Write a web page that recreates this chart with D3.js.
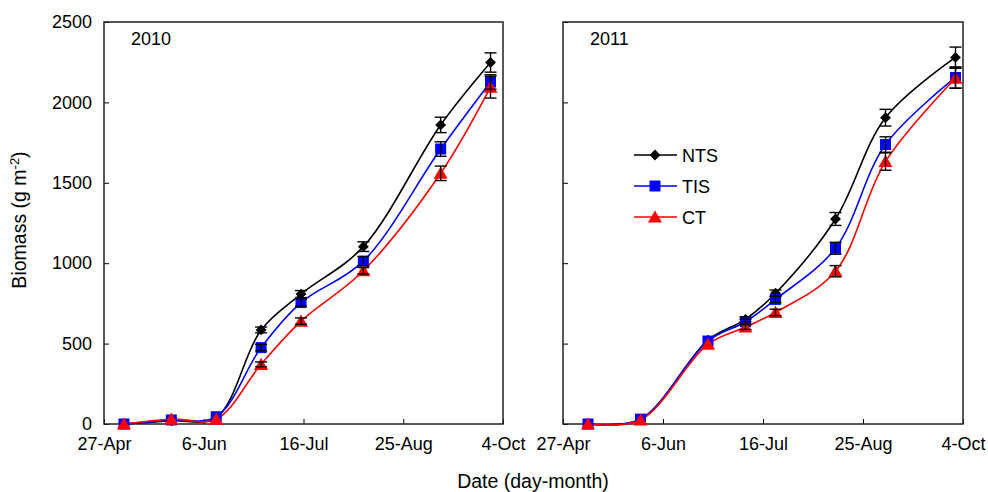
<!DOCTYPE html>
<html>
<head>
<meta charset="utf-8">
<script src="https://cdn.jsdelivr.net/npm/d3@7"></script>
<style>
  html, body { margin: 0; padding: 0; background: #fff; }
  svg { display: block; font-family: "Liberation Sans", Arial, sans-serif; }
</style>
</head>
<body>
<svg id="chart" width="988" height="492"></svg>
<script>
// Sampling dates and mean above-ground biomass (g m-2) for each tillage system
const dates2010 = ["2010-05-05", "2010-05-24", "2010-06-11", "2010-06-29", "2010-07-15", "2010-08-09", "2010-09-09", "2010-09-29"];
const nts2010 = [0, 20, 40, 585, 808, 1103, 1860, 2248];
const tis2010 = [0, 25, 45, 475, 755, 1013, 1710, 2127];
const ct2010  = [0, 30, 30, 371, 640, 953, 1559, 2095];
const ntsErr2010 = [5, 8, 10, 18, 22, 30, 48, 60];
const tisErr2010 = [5, 8, 10, 20, 22, 28, 45, 45];
const ctErr2010  = [5, 8, 10, 15, 20, 20, 45, 68];

const dates2011 = ["2011-05-07", "2011-05-28", "2011-06-24", "2011-07-09", "2011-07-21", "2011-08-14", "2011-09-03", "2011-10-01"];
const nts2011 = [0, 30, 522, 651, 813, 1275, 1905, 2280];
const tis2011 = [0, 30, 516, 636, 775, 1093, 1738, 2155];
const ct2011  = [0, 25, 497, 603, 694, 950, 1632, 2150];
const ntsErr2011 = [5, 8, 12, 15, 20, 40, 52, 64];
const tisErr2011 = [5, 8, 12, 15, 20, 37, 48, 66];
const ctErr2011  = [5, 8, 12, 15, 20, 35, 54, 62];

const seriesNames = ["NTS", "TIS", "CT"];
const seriesColors = ["#000000", "#0000ff", "#ff0000"];
const yTicks = [0, 500, 1000, 1500, 2000, 2500];
const xTickFormat = "%-d-%b";
const yearLabels = ["2010", "2011"];
const yTitle = "Biomass (g m";
const xTitle = "Date (day-month)";

const svg = d3.select("#chart");
const parse = d3.timeParse("%Y-%m-%d");

const panels = [
  { year: 2010, left: 104, right: 503, showYLabels: true,
    dates: dates2010, series: [nts2010, tis2010, ct2010], errs: [ntsErr2010, tisErr2010, ctErr2010] },
  { year: 2011, left: 563, right: 963, showYLabels: false,
    dates: dates2011, series: [nts2011, tis2011, ct2011], errs: [ntsErr2011, tisErr2011, ctErr2011] }
];
const plotTop = 22, plotBottom = 424;

const y = d3.scaleLinear().domain([0, 2500]).range([plotBottom, plotTop]);

const symbolFor = [d3.symbolDiamond2, d3.symbolSquare, d3.symbolTriangle];
const symbolSize = [75, 121, 85];

panels.forEach((p, pi) => {
  const start = parse(p.year + "-04-27");
  const end = parse(p.year + "-10-04");
  const x = d3.scaleTime().domain([start, end]).range([p.left, p.right]);
  const tickDates = d3.range(0, 5).map(i => d3.timeDay.offset(start, i * 40));

  const g = svg.append("g");

  // x axis: inward ticks, labels below
  const xAxis = d3.axisBottom(x).tickValues(tickDates).tickFormat(d3.timeFormat(xTickFormat))
    .tickSizeInner(-5).tickSizeOuter(0).tickPadding(13.5);
  const gx = g.append("g").attr("transform", `translate(0,${plotBottom})`).call(xAxis);
  gx.select(".domain").remove();
  gx.selectAll(".tick line").attr("stroke", "#000").attr("stroke-width", 1);
  gx.selectAll("text").attr("font-size", 18).attr("fill", "#000");

  // y axis: inward ticks
  const yAxis = d3.axisLeft(y).tickValues(yTicks).tickSizeInner(-5).tickSizeOuter(0).tickPadding(12)
    .tickFormat(p.showYLabels ? d3.format("d") : () => "");
  const gy = g.append("g").attr("transform", `translate(${p.left},0)`).call(yAxis);
  gy.select(".domain").remove();
  gy.selectAll(".tick line").attr("stroke", "#000").attr("stroke-width", 1);
  gy.selectAll("text").attr("font-size", 18).attr("fill", "#000");

  // frame
  g.append("rect").attr("x", p.left).attr("y", plotTop)
    .attr("width", p.right - p.left).attr("height", plotBottom - plotTop)
    .attr("fill", "none").attr("stroke", "#222").attr("stroke-width", 1.5);

  // year label
  g.append("text").attr("x", p.left + 27).attr("y", 45)
    .attr("font-size", 18).attr("fill", "#000").text(yearLabels[pi]);

  const dts = p.dates.map(parse);

  // smoothed lines
  const line = d3.line().x(d => x(d[0])).y(d => y(d[1])).curve(d3.curveCatmullRom.alpha(0.5));
  p.series.forEach((vals, si) => {
    g.append("path").datum(dts.map((d, i) => [d, vals[i]]))
      .attr("d", line).attr("fill", "none")
      .attr("stroke", seriesColors[si]).attr("stroke-width", 1.6);
  });

  // markers
  p.series.forEach((vals, si) => {
    g.selectAll(null).data(dts.map((d, i) => [d, vals[i]])).join("path")
      .attr("d", d3.symbol().type(symbolFor[si]).size(symbolSize[si]))
      .attr("transform", d => `translate(${x(d[0])},${y(d[1]) + (si === 2 ? 1.5 : 0)})`)
      .attr("fill", seriesColors[si]);
  });

  // error bars
  p.series.forEach((vals, si) => {
    const errs = p.errs[si];
    dts.forEach((d, i) => {
      if (i < 3) return;
      const cx = x(d), y1 = y(vals[i] + errs[i]), y2 = y(vals[i] - errs[i]);
      const eb = g.append("g").attr("stroke", "#000").attr("stroke-width", 1.4);
      eb.append("line").attr("x1", cx).attr("x2", cx).attr("y1", y1).attr("y2", y2);
      eb.append("line").attr("x1", cx - 6).attr("x2", cx + 6).attr("y1", y1).attr("y2", y1);
      eb.append("line").attr("x1", cx - 6).attr("x2", cx + 6).attr("y1", y2).attr("y2", y2);
    });
  });
});

// axis titles
const yt = svg.append("text")
  .attr("transform", "translate(26,220) rotate(-90)")
  .attr("text-anchor", "middle").attr("font-size", 19.5).attr("fill", "#000");
yt.append("tspan").text(yTitle);
yt.append("tspan").attr("font-size", 13).attr("dy", -7).text("-2");
yt.append("tspan").attr("dy", 7).text(")");

svg.append("text").attr("x", 533).attr("y", 488).attr("text-anchor", "middle")
  .attr("font-size", 19.5).attr("fill", "#000").text(xTitle);

// legend
const legend = svg.append("g");
seriesNames.forEach((name, si) => {
  const ly = 155 + si * 31;
  legend.append("line").attr("x1", 634).attr("x2", 677).attr("y1", ly).attr("y2", ly)
    .attr("stroke", seriesColors[si]).attr("stroke-width", 1.6);
  legend.append("path")
    .attr("d", d3.symbol().type(symbolFor[si]).size(symbolSize[si]))
    .attr("transform", `translate(655,${ly + (si === 2 ? 1.5 : 0)})`)
    .attr("fill", seriesColors[si]);
  legend.append("text").attr("x", 682).attr("y", ly + 6.5)
    .attr("font-size", 18).attr("fill", "#000").text(name);
});
</script>
</body>
</html>
